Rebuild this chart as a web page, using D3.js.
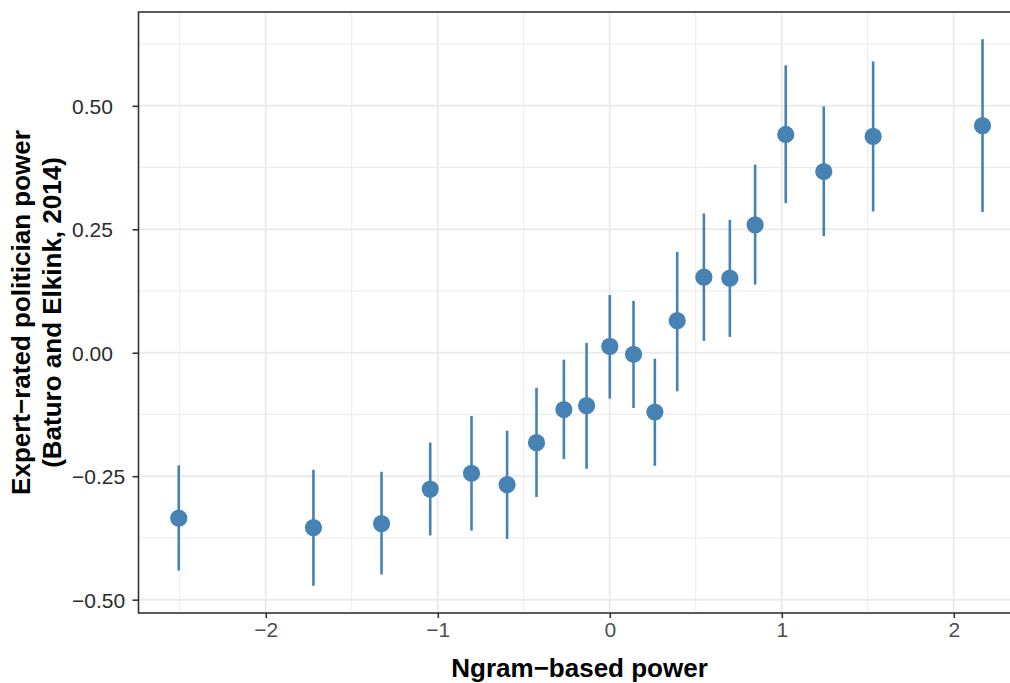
<!DOCTYPE html>
<html>
<head>
<meta charset="utf-8">
<script src="https://cdn.jsdelivr.net/npm/d3@7"></script>
<style>
  body { margin: 0; background: #fff; }
  svg { display: block; font-family: "Liberation Sans", Arial, sans-serif; }
</style>
</head>
<body>
<svg width="1010" height="683"></svg>
<script>
// ngram-based power (x), expert rating (y) with interval
const ngram = [-2.506, -1.723, -1.327, -1.044, -0.804, -0.597, -0.426, -0.267, -0.135, 0.000,
  0.138, 0.262, 0.392, 0.547, 0.698, 0.845, 1.023, 1.244, 1.531, 2.167];
const expert = [-0.335, -0.354, -0.346, -0.276, -0.244, -0.267, -0.182, -0.115, -0.107, 0.013,
  -0.003, -0.120, 0.065, 0.153, 0.151, 0.259, 0.442, 0.367, 0.438, 0.460];
const lower = [-0.441, -0.472, -0.449, -0.370, -0.360, -0.377, -0.292, -0.215, -0.235, -0.093,
  -0.112, -0.229, -0.078, 0.024, 0.032, 0.138, 0.303, 0.236, 0.286, 0.285];
const upper = [-0.228, -0.237, -0.241, -0.182, -0.128, -0.158, -0.071, -0.014, 0.020, 0.117,
  0.105, -0.012, 0.204, 0.282, 0.269, 0.381, 0.582, 0.499, 0.590, 0.635];

const xTicks = [-2, -1, 0, 1, 2];
const yTicks = [-0.5, -0.25, 0, 0.25, 0.5];
const xMinor = [-2.5, -1.5, -0.5, 0.5, 1.5];
const yMinor = [-0.375, -0.125, 0.125, 0.375, 0.625];

const pts = ngram.map((x, i) => ({ x, y: expert[i], lo: lower[i], hi: upper[i] }));

const svg = d3.select("svg");
const panel = { left: 138.5, top: 12, right: 1022.6, bottom: 613 };

const x = d3.scaleLinear().domain([-2.74, 2.40]).range([panel.left, panel.right]);
const y = d3.scaleLinear().domain([-0.527, 0.690]).range([panel.bottom, panel.top]);

const grid = svg.append("g");
grid.selectAll(".xmin").data(xMinor).join("line")
  .attr("x1", d => x(d)).attr("x2", d => x(d))
  .attr("y1", panel.top).attr("y2", panel.bottom)
  .attr("stroke", "#ebebeb").attr("stroke-width", 1);
grid.selectAll(".ymin").data(yMinor).join("line")
  .attr("y1", d => y(d)).attr("y2", d => y(d))
  .attr("x1", panel.left).attr("x2", panel.right)
  .attr("stroke", "#ebebeb").attr("stroke-width", 1);
grid.selectAll(".xmaj").data(xTicks).join("line")
  .attr("x1", d => x(d)).attr("x2", d => x(d))
  .attr("y1", panel.top).attr("y2", panel.bottom)
  .attr("stroke", "#ebebeb").attr("stroke-width", 2);
grid.selectAll(".ymaj").data(yTicks).join("line")
  .attr("y1", d => y(d)).attr("y2", d => y(d))
  .attr("x1", panel.left).attr("x2", panel.right)
  .attr("stroke", "#ebebeb").attr("stroke-width", 2);

// error bars + points
svg.append("g").selectAll("line").data(pts).join("line")
  .attr("x1", d => x(d.x)).attr("x2", d => x(d.x))
  .attr("y1", d => y(d.lo)).attr("y2", d => y(d.hi))
  .attr("stroke", "steelblue").attr("stroke-width", 2.6);

svg.append("g").selectAll("circle").data(pts).join("circle")
  .attr("cx", d => x(d.x)).attr("cy", d => y(d.y))
  .attr("r", 8.6).attr("fill", "steelblue");

// panel border
svg.append("rect")
  .attr("x", panel.left).attr("y", panel.top)
  .attr("width", panel.right - panel.left).attr("height", panel.bottom - panel.top)
  .attr("fill", "none").attr("stroke", "#333").attr("stroke-width", 1.6);

// axes
const xAxis = svg.append("g")
  .attr("transform", `translate(0,${panel.bottom})`)
  .call(d3.axisBottom(x).tickValues(xTicks).tickSize(5).tickPadding(4)
    .tickFormat(d => d3.format("d")(d).replace("-", "\u2212")));
xAxis.select(".domain").remove();
xAxis.selectAll(".tick line").attr("stroke", "#333").attr("stroke-width", 1.6);
xAxis.selectAll("text").attr("fill", "#4d4d4d").style("font-size", "21px");

// y labels sit left-aligned in the reference
const yAxis = svg.append("g")
  .attr("transform", `translate(${panel.left},0)`)
  .call(d3.axisLeft(y).tickValues(yTicks).tickSize(6)
    .tickFormat(d => d3.format(".2f")(d).replace("-", "\u2212")));
yAxis.select(".domain").remove();
yAxis.selectAll(".tick line").attr("stroke", "#333").attr("stroke-width", 1.6);
yAxis.selectAll("text")
  .attr("x", 72 - panel.left).attr("dy", "0.36em")
  .attr("text-anchor", "start")
  .attr("fill", "#2b2b2b").style("font-size", "21px");

// titles
svg.append("text")
  .attr("x", (panel.left + panel.right) / 2 - 1).attr("y", 677)
  .attr("text-anchor", "middle")
  .style("font-size", "26px").style("font-weight", "bold").attr("fill", "#000")
  .text("Ngram\u2212based power");

const yTitle = svg.append("text")
  .attr("transform", `translate(30,${(panel.top + panel.bottom) / 2}) rotate(-90)`)
  .attr("text-anchor", "middle")
  .style("font-size", "26px").style("font-weight", "bold").attr("fill", "#000");
yTitle.append("tspan").attr("x", 0).attr("y", 0).text("Expert\u2212rated politician power");
yTitle.append("tspan").attr("x", 0).attr("y", 31).text("(Baturo and Elkink, 2014)");
</script>
</body>
</html>
